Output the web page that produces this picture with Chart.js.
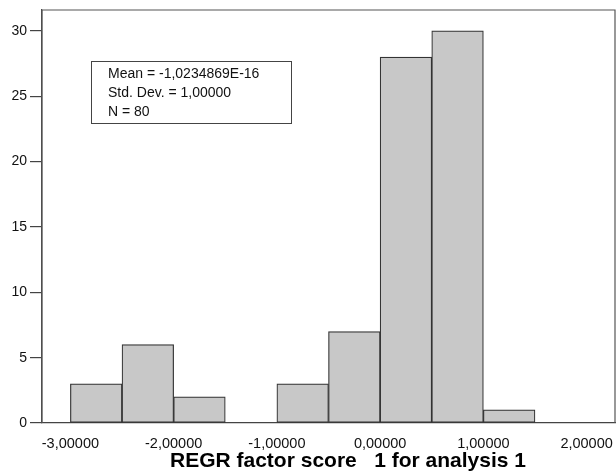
<!DOCTYPE html>
<html>
<head>
<meta charset="utf-8">
<script src="https://cdn.jsdelivr.net/npm/chart.js@4/dist/chart.umd.min.js"></script>
<style>
  html, body { margin: 0; padding: 0; background: #fff; }
  #wrap { width: 616px; height: 472px; }
</style>
</head>
<body>
<div id="wrap"><canvas id="c" width="616" height="472"></canvas></div>
<script>
// ---- data ----
const binStarts = [-3.0, -2.5, -2.0, -1.5, -1.0, -0.5, 0.0, 0.5, 1.0, 1.5];
const binWidth = 0.5;
const counts    = [3, 6, 2, 0, 3, 7, 28, 30, 1, 0];
const xTickValues = [-3, -2, -1, 0, 1, 2];
const yTickValues = [0, 5, 10, 15, 20, 25, 30];
const statsLines = ['Mean = -1,0234869E-16', 'Std. Dev. = 1,00000', 'N = 80'];
const xTitle = 'REGR factor score   1 for analysis 1';

const points = binStarts.map((s, i) => ({ x: s + binWidth / 2, y: counts[i] }));

const FONT = "'Liberation Sans', Arial, Helvetica, sans-serif";

const framePlugin = {
  id: 'frame',
  afterDatasetsDraw(chart) {
    const { ctx, chartArea: a } = chart;
    ctx.save();
    ctx.strokeStyle = '#555';
    ctx.lineWidth = 1.2;
    ctx.beginPath();
    ctx.moveTo(a.left, a.bottom);
    ctx.lineTo(a.left, a.top);
    ctx.lineTo(a.right, a.top);
    ctx.lineTo(a.right, a.bottom);
    ctx.stroke();
    ctx.restore();
  },
  afterDraw(chart) {
    const { ctx, chartArea: a } = chart;
    ctx.save();
    // stats box
    const bx = a.left + 49, by = a.top + 51, bw = 200, bh = 62;
    ctx.fillStyle = '#fff';
    ctx.fillRect(bx, by, bw, bh);
    ctx.strokeStyle = '#444';
    ctx.lineWidth = 1;
    ctx.strokeRect(bx + 0.5, by + 0.5, bw, bh);
    ctx.fillStyle = '#111';
    ctx.font = '14px ' + FONT;
    ctx.textBaseline = 'middle';
    statsLines.forEach((t, i) => ctx.fillText(t, bx + 17, by + 13.5 + i * 18.8));
    // axis title
    ctx.fillStyle = '#000';
    ctx.font = 'bold 21px ' + FONT;
    ctx.textAlign = 'center';
    ctx.textBaseline = 'middle';
    ctx.fillText(xTitle, (a.left + a.right) / 2 + 19.5, a.bottom + 38.5);
    ctx.restore();
  }
};

new Chart(document.getElementById('c'), {
  type: 'bar',
  data: {
    datasets: [{
      data: points,
      backgroundColor: '#c8c8c8',
      borderColor: '#333',
      borderWidth: 1.2,
      borderSkipped: false,
      barPercentage: 1.0,
      categoryPercentage: 1.0
    }]
  },
  options: {
    responsive: false,
    animation: false,
    devicePixelRatio: 1,
    layout: { padding: { top: 10, right: 1, left: 0, bottom: 0 } },
    plugins: { legend: { display: false }, tooltip: { enabled: false } },
    scales: {
      x: {
        type: 'linear',
        min: -3.275,
        max: 2.275,
        offset: false,
        afterBuildTicks: (s) => { s.ticks = xTickValues.map(v => ({ value: v })); },
        afterFit: (s) => { s.height = 49; s.paddingLeft = 0; s.paddingRight = 0; },
        grid: { display: false },
        border: { display: true, color: '#444', width: 1.2 },
        ticks: {
          autoSkip: false,
          maxRotation: 0,
          padding: 4,
          color: '#111',
          font: { family: FONT, size: 14.5 },
          callback: (v) => v.toFixed(5).replace('.', ',')
        },
        title: { display: false }
      },
      y: {
        min: 0,
        max: 31.6,
        afterBuildTicks: (s) => { s.ticks = yTickValues.map(v => ({ value: v })); },
        afterFit: (s) => { s.width = 42; s.paddingTop = 0; s.paddingBottom = 0; },
        grid: { display: true, drawOnChartArea: false, drawTicks: true, tickLength: 12, color: '#444', lineWidth: 1.2 },
        border: { display: true, color: '#444', width: 1.2 },
        ticks: {
          padding: 3,
          color: '#111',
          font: { family: FONT, size: 14 }
        }
      }
    }
  },
  plugins: [framePlugin]
});
</script>
</body>
</html>
